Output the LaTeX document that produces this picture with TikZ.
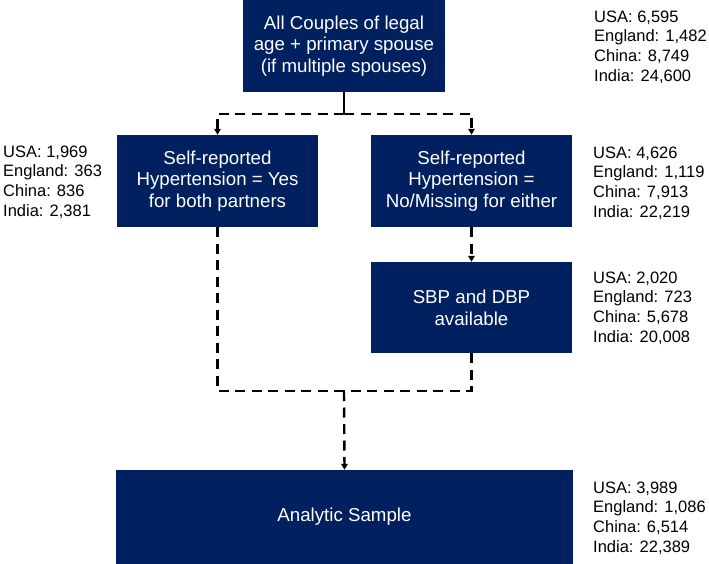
\documentclass[tikz,border=0pt]{standalone}
\usepackage{fontspec}
\setmainfont{Liberation Sans}
\usetikzlibrary{arrows.meta}
\definecolor{navy}{HTML}{002060}

\begin{document}
\begin{tikzpicture}[x=1pt, y=-1pt,
  box/.style={fill=navy, text=white, align=center, inner sep=0pt,
    minimum width=201pt, minimum height=92pt,
    font=\fontsize{18.7}{21.7}\selectfont},
  count/.style={anchor=west, align=left, inner sep=0pt,
    font=\fontsize{16.5}{19.7}\selectfont},
  link/.style={line width=2.4pt, dash pattern=on 10pt off 6.5pt},
  tip/.style={-{Triangle[length=6pt,width=6.5pt]}}]
\useasboundingbox (0,0) rectangle (709,564);

%boxes
\node[box, minimum width=202pt] (couples) at (344,46) {All Couples of legal\\age + primary spouse\\(if multiple spouses)};
\node[box] (yes) at (217.5,181) {Self-reported\\Hypertension = Yes\\for both partners};
\node[box] (nomiss) at (471.5,181) {Self-reported\\Hypertension =\\No/Missing for either};
\node[box, minimum height=91pt] (bp) at (471.5,307.5) {SBP and DBP\\available};
\node[box, minimum width=457pt, minimum height=94pt] (sample) at (344.5,517) {Analytic Sample};

%counts
\node[count] (ncouples) at (594,47) {USA: 6,595\\England: 1,482\\China: 8,749\\India: 24,600};
\node[count] (nyes) at (3,182) {USA: 1,969\\England: 363\\China: 836\\India: 2,381};
\node[count] (nnomiss) at (593,183) {USA: 4,626\\England: 1,119\\China: 7,913\\India: 22,219};
\node[count] (nbp) at (593,308) {USA: 2,020\\England: 723\\China: 5,678\\India: 20,008};
\node[count] (nsample) at (593,518) {USA: 3,989\\England: 1,086\\China: 6,514\\India: 22,389};

%connectors
\coordinate (fork) at (344,114);
\coordinate (join) at (344,391);
\draw[line width=2.4pt] (couples.south) -- (fork);
\draw[link, tip] (fork) -| (yes.north);
\draw[link, tip] (fork) -| (nomiss.north);
\draw[link, tip] (nomiss.south) -- (bp.north);
\draw[link] (yes.south) |- (join);
\draw[link] (bp.south) |- (join);
\draw[link, tip] (join) -- (sample.north);
\end{tikzpicture}
\end{document}
